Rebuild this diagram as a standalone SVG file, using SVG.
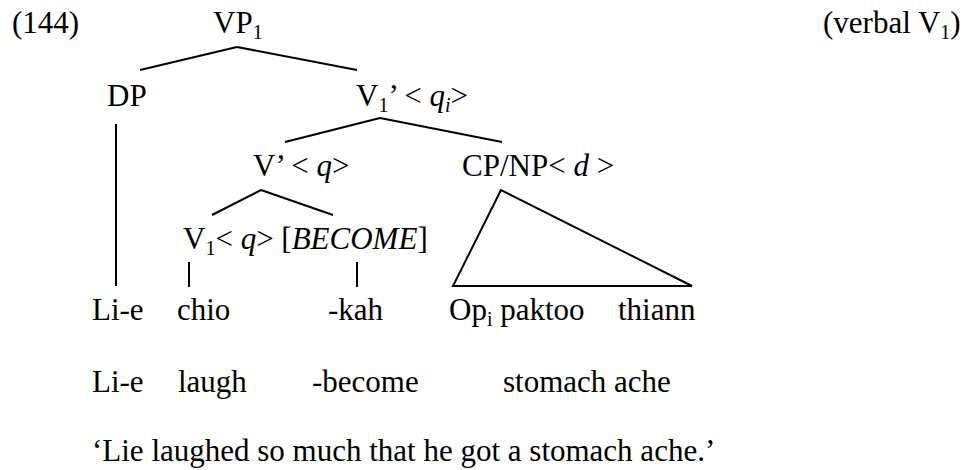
<svg xmlns="http://www.w3.org/2000/svg" width="966" height="470" viewBox="0 0 966 470" font-family="'Liberation Serif', Tinos, 'Times New Roman', 'DejaVu Serif', serif">
<style>
text{font-family:"Liberation Serif",Tinos,"Times New Roman","DejaVu Serif",serif;font-size:31px;fill:#000}
.i{font-style:italic}
.s{font-size:20px}
.c line,.c polygon{stroke:#000;stroke-width:2;fill:none}
</style>
<rect width="966" height="470" fill="#fff"/>
<g id="label-num"><text x="12" y="33">(144)</text></g>
<g id="label-verbal"><text x="823" y="33">(verbal V<tspan class="s" dy="6">1</tspan><tspan dy="-6">)</tspan></text></g>
<g id="n-vp1"><text x="213" y="33">VP<tspan class="s" dy="6">1</tspan></text></g>
<g id="n-dp"><text x="107" y="106">DP</text></g>
<g id="n-v1bar"><text x="356" y="106">V<tspan class="s" dy="6">1</tspan><tspan dy="-6">’ &lt; </tspan><tspan class="i">q</tspan><tspan class="i s" dy="6">i</tspan><tspan dy="-6">&gt;</tspan></text></g>
<g id="n-vbar"><text x="253" y="176">V’ &lt; <tspan class="i">q</tspan>&gt;</text></g>
<g id="n-cpnp"><text x="462" y="176">CP/NP&lt; <tspan class="i">d</tspan> &gt;</text></g>
<g id="n-v1"><text x="183" y="249">V<tspan class="s" dy="6">1</tspan><tspan dy="-6">&lt; </tspan><tspan class="i">q</tspan>&gt; [<tspan class="i">BECOME</tspan>]</text></g>
<g id="w-lie"><text x="92" y="320">Li-e</text></g>
<g id="w-chio"><text x="177" y="320">chio</text></g>
<g id="w-kah"><text x="328" y="320">-kah</text></g>
<g id="w-op"><text x="449" y="320">Op<tspan class="s" dy="6">i</tspan><tspan dy="-6"> paktoo</tspan></text></g>
<g id="w-thiann"><text x="618" y="320">thiann</text></g>
<g id="gloss">
<text x="92" y="392">Li-e</text>
<text x="178" y="392">laugh</text>
<text x="312" y="392">-become</text>
<text x="503" y="392">stomach ache</text>
</g>
<g id="translation"><text x="92" y="461">‘Lie laughed so much that he got a stomach ache.’</text></g>
<g id="connectors" class="c">
<line x1="237" y1="47" x2="140" y2="70"/>
<line x1="237" y1="47" x2="357" y2="70"/>
<line x1="116" y1="124" x2="116" y2="286"/>
<line x1="380" y1="118" x2="285" y2="142"/>
<line x1="380" y1="118" x2="502" y2="142"/>
<line x1="261" y1="190" x2="212" y2="215"/>
<line x1="261" y1="190" x2="333" y2="215"/>
<line x1="189" y1="262" x2="189" y2="287"/>
<line x1="357" y1="262" x2="357" y2="287"/>
<polygon points="501,190 453,286 692,286"/>
</g>
</svg>
